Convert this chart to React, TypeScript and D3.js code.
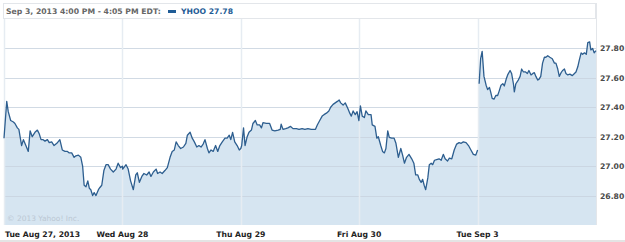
import React from "react";
import * as d3 from "d3";

// minutes since 9:30 open, price
const aug27: [number, number][] = [
  [0, 27.19], [9, 27.44], [14, 27.37], [22, 27.31], [31, 27.3], [36, 27.29], [44, 27.26], [49, 27.25],
  [58, 27.14], [64, 27.18], [72, 27.14], [80, 27.1], [86, 27.24], [93, 27.2], [102, 27.23], [110, 27.245],
  [116, 27.22], [122, 27.18], [129, 27.18], [135, 27.17], [143, 27.18], [149, 27.16], [157, 27.165],
  [165, 27.14], [174, 27.155], [184, 27.18], [192, 27.11], [201, 27.1], [209, 27.1], [215, 27.09],
  [223, 27.09], [231, 27.06], [237, 27.07], [245, 27.075], [253, 27.06], [259, 27.0], [264, 26.87],
  [270, 26.86], [276, 26.9], [281, 26.85], [286, 26.84], [292, 26.8], [297, 26.82], [303, 26.8],
  [311, 26.84], [316, 26.855], [322, 26.87], [329, 26.97], [336, 27.01], [343, 27.01], [351, 26.98],
  [360, 26.96], [369, 26.98], [376, 27.02], [384, 26.99], [390, 27.0],
];
const aug28: [number, number][] = [
  [1, 26.98], [12, 27.01], [19, 26.98], [27, 26.9], [36, 26.84], [44, 26.94], [49, 26.955], [56, 26.89],
  [64, 26.93], [71, 26.95], [80, 26.94], [88, 26.96], [94, 26.93], [102, 26.96], [111, 26.98], [116, 26.95],
  [124, 26.96], [131, 26.95], [140, 26.97], [148, 26.99], [157, 27.06], [164, 27.1], [171, 27.11],
  [177, 27.165], [184, 27.14], [192, 27.12], [201, 27.13], [209, 27.155], [214, 27.21], [223, 27.23],
  [230, 27.19], [237, 27.165], [245, 27.13], [252, 27.14], [259, 27.13], [266, 27.15], [272, 27.18],
  [280, 27.12], [285, 27.09], [292, 27.11], [299, 27.1], [307, 27.14], [314, 27.1], [321, 27.14],
  [329, 27.165], [338, 27.19], [345, 27.19], [352, 27.21], [357, 27.18], [363, 27.23], [370, 27.165],
  [378, 27.14], [385, 27.11], [390, 27.12],
];
const aug29: [number, number][] = [
  [3, 27.14], [9, 27.26], [14, 27.14], [21, 27.2], [27, 27.23], [35, 27.245], [40, 27.29], [48, 27.31],
  [54, 27.28], [62, 27.28], [68, 27.26], [73, 27.295], [84, 27.29], [95, 27.29], [103, 27.245],
  [112, 27.24], [123, 27.245], [130, 27.25], [133, 27.285], [139, 27.25], [148, 27.255], [155, 27.26],
  [164, 27.27], [172, 27.255], [183, 27.255], [192, 27.25], [202, 27.255], [211, 27.25], [221, 27.255],
  [232, 27.25], [246, 27.25], [252, 27.28], [260, 27.31], [268, 27.34], [274, 27.35], [282, 27.36],
  [290, 27.375], [296, 27.4], [304, 27.42], [311, 27.43], [318, 27.44], [324, 27.45], [329, 27.43],
  [337, 27.415], [344, 27.43], [353, 27.39], [359, 27.36], [364, 27.34], [370, 27.375], [377, 27.35],
  [383, 27.37], [389, 27.31],
];
const aug30: [number, number][] = [
  [4, 27.41], [10, 27.34], [17, 27.33], [22, 27.375], [30, 27.35], [39, 27.35], [43, 27.28], [52, 27.27],
  [58, 27.19], [63, 27.2], [71, 27.14], [77, 27.1], [83, 27.09], [88, 27.12], [94, 27.24], [99, 27.195],
  [107, 27.19], [115, 27.19], [121, 27.155], [129, 27.06], [137, 27.12], [143, 27.075], [149, 27.02],
  [156, 27.06], [164, 27.08], [173, 27.05], [180, 27.02], [186, 26.94], [193, 26.94], [198, 26.91],
  [204, 26.89], [209, 26.91], [214, 26.87], [219, 26.84], [226, 26.92], [231, 27.01], [237, 27.02],
  [242, 27.01], [248, 27.04], [255, 27.045], [263, 27.05], [270, 27.04], [277, 27.08], [283, 27.05],
  [291, 27.035], [297, 27.055], [305, 27.05], [313, 27.11], [321, 27.15], [329, 27.16], [336, 27.155],
  [343, 27.165], [352, 27.16], [360, 27.14], [368, 27.11], [376, 27.08], [384, 27.075], [390, 27.11],
];
const sep3: [number, number][] = [
  [5, 27.56], [10, 27.73], [15, 27.78], [21, 27.61], [28, 27.55], [33, 27.52], [39, 27.535], [43, 27.505],
  [48, 27.46], [54, 27.455], [60, 27.48], [66, 27.48], [71, 27.51], [77, 27.55], [83, 27.56], [88, 27.545],
  [94, 27.59], [99, 27.62], [107, 27.65], [112, 27.63], [118, 27.56], [121, 27.505], [126, 27.56],
  [134, 27.585], [140, 27.61], [145, 27.66], [151, 27.64], [158, 27.64], [164, 27.63], [169, 27.65],
  [176, 27.62], [182, 27.63], [187, 27.635], [192, 27.61], [198, 27.585], [202, 27.59], [208, 27.61],
  [214, 27.7], [220, 27.74], [225, 27.74], [231, 27.75], [238, 27.74], [246, 27.73], [253, 27.7],
  [258, 27.7], [264, 27.66], [269, 27.61], [275, 27.635], [280, 27.65], [286, 27.66], [291, 27.63],
  [297, 27.62], [304, 27.625], [312, 27.615], [319, 27.63], [324, 27.64], [330, 27.675], [335, 27.72],
  [341, 27.77], [346, 27.76], [352, 27.77], [358, 27.76], [363, 27.84], [369, 27.845], [373, 27.79],
  [379, 27.8], [384, 27.77], [390, 27.785],
];

const days = [aug27, aug28, aug29, aug30, sep3];
const dayLabels = ["Tue Aug 27, 2013", "Wed Aug 28", "Thu Aug 29", "Fri Aug 30", "Tue Sep 3"];
const yTicks = [26.8, 27.0, 27.2, 27.4, 27.6, 27.8];
const headerText = "Sep 3, 2013 4:00 PM - 4:05 PM EDT:";
const legendText = "YHOO 27.78";
const copyright = "\u00a9 2013 Yahoo! Inc.";

const SESSION = 390;

export default function App() {
  const W = 625;
  const H = 242;
  const left = 4;
  const right = 596;
  const top = 19;
  const bottom = 225;

  const x = d3.scaleLinear().domain([0, SESSION * days.length]).range([left, right]);
  const y = d3.scaleLinear().domain([26.6, 28.0]).range([bottom, top]);

  type P = { t: number; v: number; day: number };
  const pts: P[] = [];
  days.forEach((d, i) => {
    d.forEach(([m, v]) => {
      pts.push({ t: i * SESSION + m, v, day: i });
    });
  });

  const area = d3
    .area<P>()
    .x((p) => x(p.t))
    .y0(bottom)
    .y1((p) => y(p.v));
  const areaPath = area(pts) || "";

  const line = d3
    .line<P>()
    .x((p) => x(p.t))
    .y((p) => y(p.v));
  const firstPart = pts.filter((p) => p.day < 4);
  const lastPart = pts.filter((p) => p.day === 4);

  const font = "Verdana, 'DejaVu Sans', sans-serif";

  return (
    <svg
      width={W}
      height={H}
      style={{ position: "absolute", left: 0, top: 0, background: "#fff" }}
      fontFamily={font}
    >
      {/* header box */}
      <rect x={3.5} y={3.5} width={592} height={15} fill="#fff" stroke="#e3e6ea" />
      <text x={6} y={14} fontSize={7.7} fontWeight="bold" fill="#666">
        {headerText}
      </text>
      <rect x={168} y={10} width={8} height={3} fill="#1f5c96" />
      <text x={181} y={14} fontSize={7.7} fontWeight="bold" fill="#1f5c96">
        {legendText}
      </text>

      {/* plot frame */}
      <line x1={right + 0.5} x2={right + 0.5} y1={3} y2={bottom} stroke="#e3e6ea" />

      {/* area */}
      <path d={areaPath} fill="#d6e5f1" />

      {/* horizontal grid */}
      {yTicks.map((t) => (
        <line
          key={t}
          x1={left}
          x2={right}
          y1={Math.round(y(t)) + 0.5}
          y2={Math.round(y(t)) + 0.5}
          stroke="#c9d4df"
          strokeOpacity={0.85}
        />
      ))}
      {/* vertical grid */}
      {dayLabels.map((_, i) => (
        <line
          key={i}
          x1={Math.round(x(i * SESSION)) + 0.5}
          x2={Math.round(x(i * SESSION)) + 0.5}
          y1={top}
          y2={bottom}
          stroke="#e6ecf2"
          strokeWidth={1.5}
        />
      ))}

      {/* lines */}
      <path d={line(firstPart) || ""} fill="none" stroke="#2d5e8f" strokeWidth={1.3} strokeLinejoin="round" />
      <path d={line(lastPart) || ""} fill="none" stroke="#2d5e8f" strokeWidth={1.3} strokeLinejoin="round" />

      {/* copyright */}
      <text x={7} y={221} fontSize={7.5} fill="#bcc8d4">
        {copyright}
      </text>

      {/* y labels */}
      {yTicks.map((t) => (
        <text
          key={t}
          x={600}
          y={y(t) + 3}
          fontSize={7.7}
          fontWeight="bold"
          fill="#4a4a4a"
        >
          {t.toFixed(2)}
        </text>
      ))}

      {/* x labels */}
      {dayLabels.map((l, i) => (
        <text
          key={l}
          x={i === 0 ? 5 : x(i * SESSION)}
          y={236.5}
          fontSize={7.7}
          fontWeight="bold"
          fill="#222"
          textAnchor={i === 0 ? "start" : "middle"}
        >
          {l}
        </text>
      ))}

      {/* bottom band */}
      <rect x={0} y={240} width={W} height={2} fill="#e4e4e4" />
    </svg>
  );
}
